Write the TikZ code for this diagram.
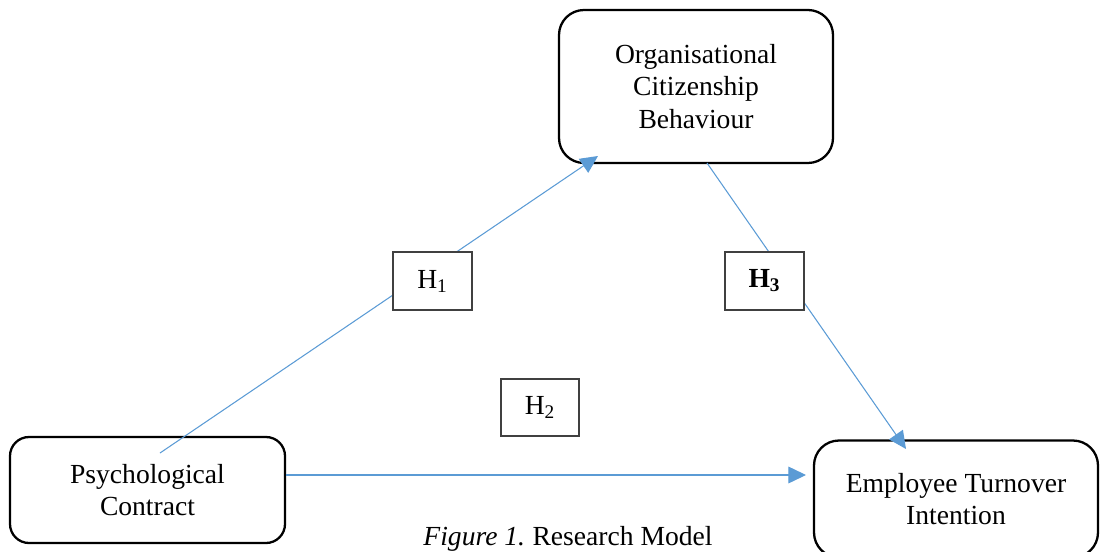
\documentclass[tikz,border=0pt]{standalone}
\usepackage{fontspec}
\setmainfont{Liberation Serif}
\usepackage{tikz}
\usepackage{xcolor}
\usetikzlibrary{arrows.meta}

\definecolor{linkblue}{RGB}{91,155,213}

\begin{document}
\begin{tikzpicture}[font=\fontsize{15.7}{18.4}\selectfont]
    \useasboundingbox (0,0) rectangle (22,11.02);
    % Boxes
    \node[draw, rectangle, rounded corners=0.5cm, line width=1.3pt, minimum width=5.48cm, minimum height=3.06cm, align=center] (ocb) at (13.92,9.29) {Organisational\\Citizenship\\Behaviour};
    \node[draw, rectangle, rounded corners=0.38cm, line width=1.3pt, minimum width=5.5cm, minimum height=2.12cm, align=center] (pc) at (2.95,1.22) {Psychological\\Contract};
    \node[draw, rectangle, rounded corners=0.5cm, line width=1.3pt, minimum width=5.68cm, minimum height=2.34cm, align=center] (eti) at (19.12,1.04) {Employee Turnover\\Intention};
    
    % Arrow ends
    \coordinate (pcstart) at (3.2,1.96);
    \coordinate (ocbend) at (11.96,7.9);
    \coordinate (ocbstart) at (14.14,7.76);
    \coordinate (etiend) at (18.12,2.04);
    \coordinate (etileft) at (16.12,1.52);
    
    % Arrows
    \draw[-{Triangle[length=10pt,width=9.5pt]}, linkblue, line width=0.6pt] (pcstart) -- (ocbend);
    \draw[-{Triangle[length=10pt,width=9.5pt]}, linkblue, line width=0.6pt] (ocbstart) -- (etiend);
    \draw[-{Triangle[length=10pt,width=9.5pt]}, linkblue, line width=0.6pt] (pc.east |- etileft) -- (etileft);
    
    % Hypotheses
    \node[draw=black!75, fill=white, rectangle, line width=0.7pt, minimum width=1.58cm, minimum height=1.16cm] (h1) at (8.65,5.4) {H\textsubscript{1}};
    \node[draw=black!75, fill=white, rectangle, line width=0.7pt, minimum width=1.56cm, minimum height=1.14cm] (h2) at (10.8,2.87) {H\textsubscript{2}};
    \node[draw=black!75, fill=white, rectangle, line width=0.7pt, minimum width=1.58cm, minimum height=1.16cm] (h3) at (15.29,5.4) {\textbf{H\textsubscript{3}}};
    
    % Caption
    \node (caption) at (11.36,0.24) {\textit{Figure 1.}\kern-1pt{} Research Model};
\end{tikzpicture}
\end{document}
